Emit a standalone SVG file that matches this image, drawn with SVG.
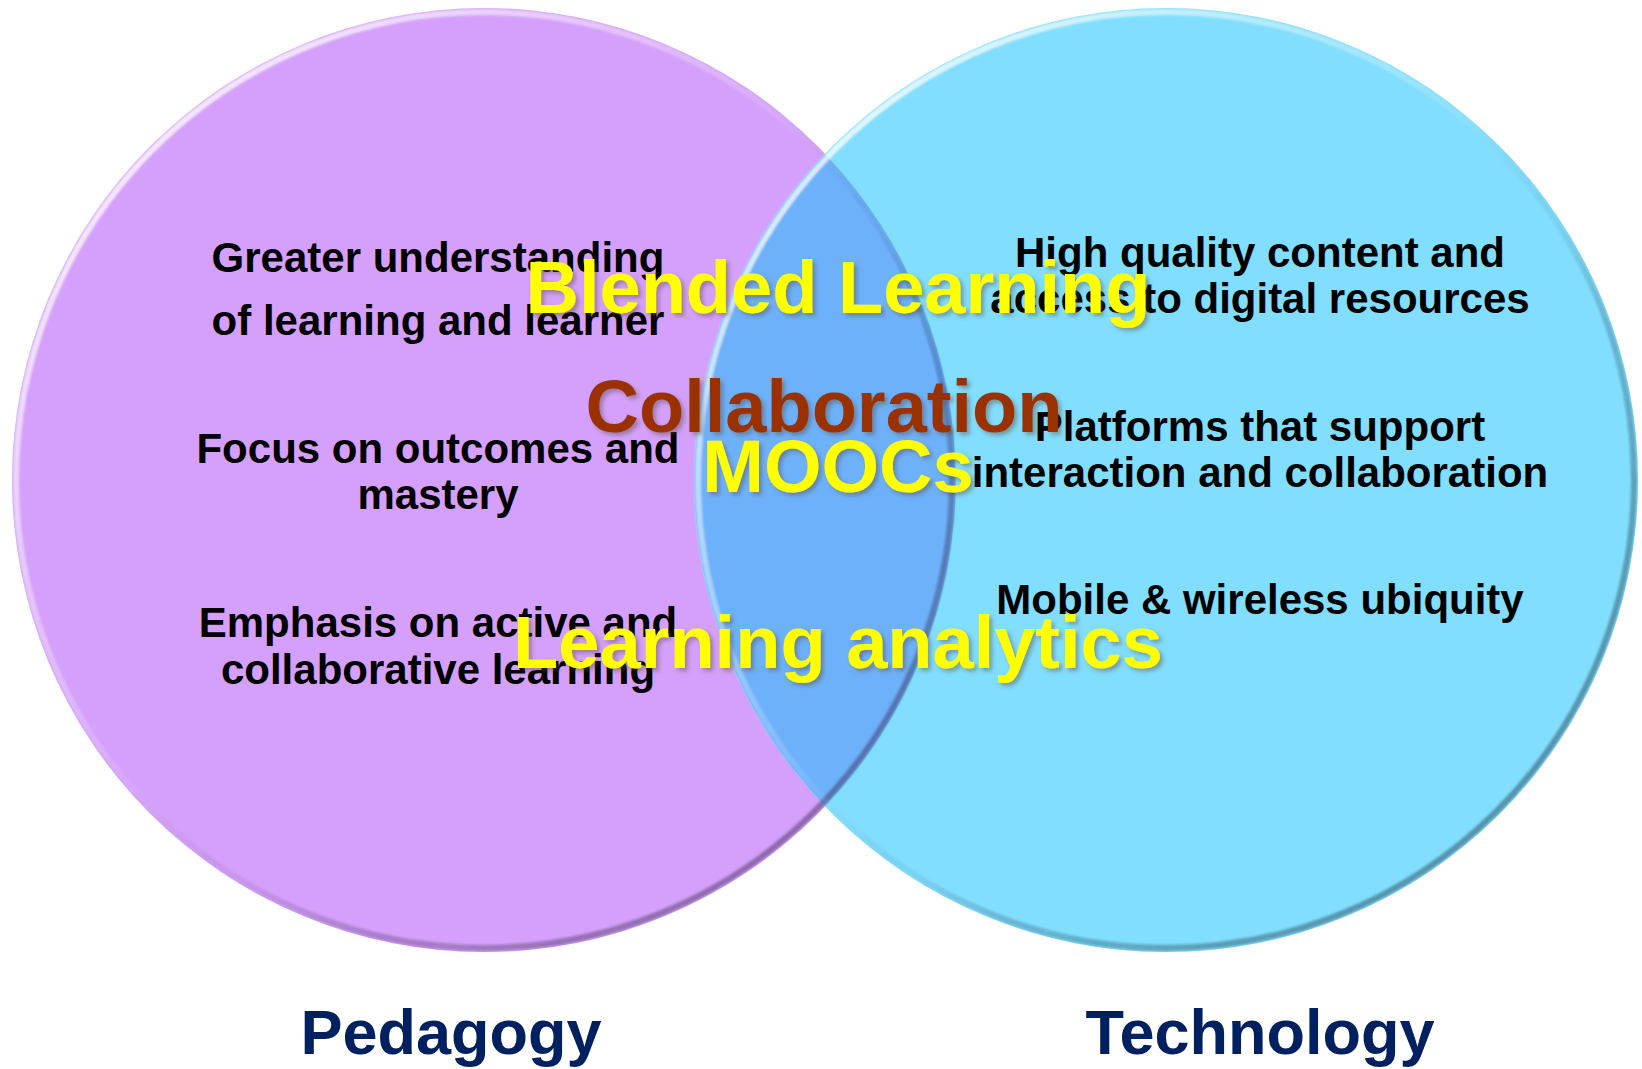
<svg xmlns="http://www.w3.org/2000/svg" width="1642" height="1069" viewBox="0 0 1642 1069">
<style>
.item{font-family:"Liberation Sans",Arial,sans-serif;font-weight:bold;font-size:42px;fill:#000;text-anchor:middle}
.big{font-family:"Liberation Sans",Arial,sans-serif;font-weight:bold;font-size:74px;text-anchor:middle;filter:url(#shadow)}
.yellow{fill:#FFFF00}
.brown{fill:#993300}
.title{font-family:"Liberation Sans",Arial,sans-serif;font-weight:bold;font-size:63px;fill:#002060;text-anchor:middle}
.rim{fill:none;stroke-width:6;filter:url(#soft)}
</style>
<defs>
<filter id="shadow" x="-10%" y="-20%" width="130%" height="150%">
<feDropShadow dx="3" dy="3" stdDeviation="2" flood-color="#5a4a3a" flood-opacity="0.45"/>
</filter>
<filter id="soft" x="-5%" y="-5%" width="110%" height="110%">
<feGaussianBlur stdDeviation="1.2"/>
</filter>
<linearGradient id="rimL" gradientUnits="userSpaceOnUse" x1="150" y1="150" x2="820" y2="810">
<stop offset="0" stop-color="#ffffff" stop-opacity="0.75"/>
<stop offset="0.45" stop-color="#ffffff" stop-opacity="0.1"/>
<stop offset="0.6" stop-color="#000000" stop-opacity="0.05"/>
<stop offset="1" stop-color="#3a2a50" stop-opacity="0.45"/>
</linearGradient>
<linearGradient id="rimR" gradientUnits="userSpaceOnUse" x1="832" y1="150" x2="1500" y2="810">
<stop offset="0" stop-color="#ffffff" stop-opacity="0.75"/>
<stop offset="0.45" stop-color="#ffffff" stop-opacity="0.1"/>
<stop offset="0.6" stop-color="#000000" stop-opacity="0.05"/>
<stop offset="1" stop-color="#2a4a5a" stop-opacity="0.5"/>
</linearGradient>
</defs>
<rect width="1642" height="1069" fill="#ffffff"/>
<g id="pedagogy-circle">
<circle cx="484" cy="480" r="472" fill="#D4A0FB"/>
</g>
<g id="technology-circle">
<circle cx="1166" cy="480" r="472" fill="#81DEFE"/>
</g>
<g id="overlap">
<path d="M825,154 A472,472 0 0,1 825,806 A472,472 0 0,1 825,154 Z" fill="#6DB1FB"/>
</g>
<g id="rims">
<circle class="rim" cx="484" cy="480" r="468" stroke="url(#rimL)"/>
<circle class="rim" cx="1166" cy="480" r="468" stroke="url(#rimR)"/>
</g>
<g id="connectors"/>
<g id="pedagogy-items">
<text class="item" x="438" y="272">Greater understanding</text>
<text class="item" x="438" y="335">of learning and learner</text>
<text class="item" x="438" y="463">Focus on outcomes and</text>
<text class="item" x="438" y="509">mastery</text>
<text class="item" x="438" y="637">Emphasis on active and</text>
<text class="item" x="438" y="684">collaborative learning</text>
</g>
<g id="technology-items">
<text class="item" x="1260" y="267">High quality content and</text>
<text class="item" x="1260" y="313">access to digital resources</text>
<text class="item" x="1260" y="441">Platforms that support</text>
<text class="item" x="1260" y="487">interaction and collaboration</text>
<text class="item" x="1260" y="614">Mobile &amp; wireless ubiquity</text>
</g>
<g id="overlap-labels">
<text class="big yellow" x="838" y="313">Blended Learning</text>
<text class="big brown" x="824" y="432">Collaboration</text>
<text class="big yellow" x="838" y="492">MOOCs</text>
<text class="big yellow" x="838" y="668">Learning analytics</text>
</g>
<g id="titles">
<text class="title" x="451" y="1054">Pedagogy</text>
<text class="title" x="1260" y="1054">Technology</text>
</g>
</svg>
